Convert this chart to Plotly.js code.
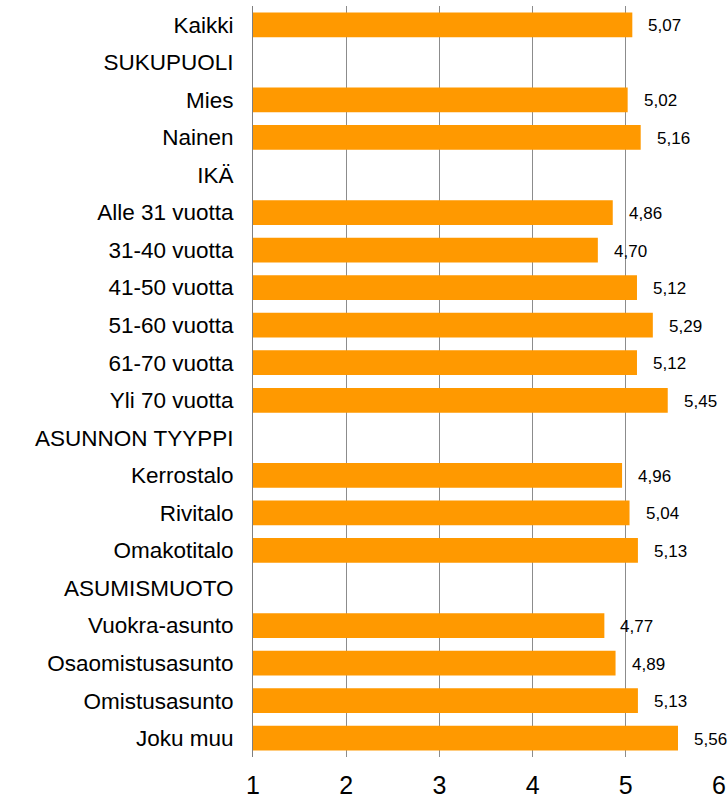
<!DOCTYPE html>
<html>
<head>
<meta charset="utf-8">
<script src="https://cdn.plot.ly/plotly-3.0.1.min.js"></script>
<style>html,body{margin:0;padding:0;background:#fff;}#chart{width:728px;height:802px;}</style>
</head>
<body>
<div id="chart"></div>
<script>
const categories = ["Kaikki","SUKUPUOLI","Mies","Nainen","IKÄ","Alle 31 vuotta","31-40 vuotta","41-50 vuotta","51-60 vuotta","61-70 vuotta","Yli 70 vuotta","ASUNNON TYYPPI","Kerrostalo","Rivitalo","Omakotitalo","ASUMISMUOTO","Vuokra-asunto","Osaomistusasunto","Omistusasunto","Joku muu"];
const values = [5.07,null,5.02,5.16,null,4.86,4.70,5.12,5.29,5.12,5.45,null,4.96,5.04,5.13,null,4.77,4.89,5.13,5.56];
const tickValues = [1,2,3,4,5,6];
const tickLabels = ["1","2","3","4","5","6"];

const fmt = v => v.toFixed(2).replace('.', ',');
const annotations = [];
categories.forEach((c, i) => {
  if (values[i] !== null) {
    annotations.push({x: values[i], y: c, xref: 'x', yref: 'y', text: fmt(values[i]),
      showarrow: false, xanchor: 'left', xshift: 14, yshift: -1,
      font: {family: 'Liberation Sans, Arial, sans-serif', size: 17, color: '#000'}});
  }
});

const trace = {
  type: 'bar', orientation: 'h', y: categories, x: values,
  marker: {color: '#FF9900', line: {width: 0}},
  width: 0.66, hoverinfo: 'none', cliponaxis: false
};
const layout = {
  width: 728, height: 802,
  margin: {l: 253, r: 9, t: 6, b: 45},
  paper_bgcolor: '#fff', plot_bgcolor: '#fff',
  showlegend: false,
  font: {family: 'Liberation Sans, Arial, sans-serif', color: '#000'},
  xaxis: {range: [1, 6], tickvals: tickValues, ticktext: tickLabels,
    showgrid: true, gridcolor: '#8c8c8c', gridwidth: 1, zeroline: false,
    ticks: '', ticklabelstandoff: 11, tickfont: {size: 25, color: '#000'}, showline: false, fixedrange: true},
  yaxis: {autorange: 'reversed', type: 'category', showgrid: false, zeroline: false,
    showline: true, linecolor: '#7f7f7f', linewidth: 1, ticks: '', ticklen: 0,
    ticklabelstandoff: 14,
    tickfont: {size: 22.5, color: '#000'}, fixedrange: true},
  annotations: annotations
};
Plotly.newPlot('chart', [trace], layout, {displayModeBar: false, staticPlot: true});
</script>
</body>
</html>
